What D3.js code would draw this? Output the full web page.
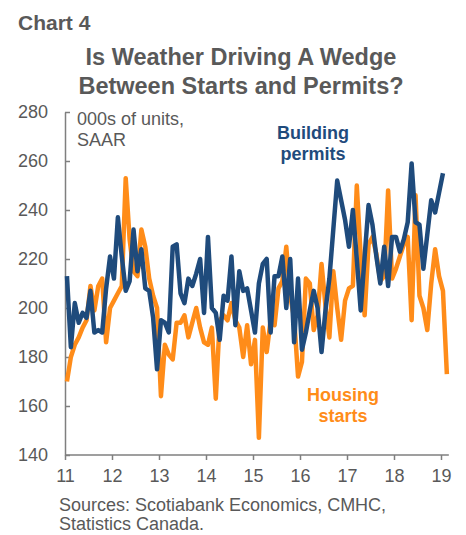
<!DOCTYPE html>
<html>
<head>
<meta charset="utf-8">
<script src="https://cdn.jsdelivr.net/npm/d3@7"></script>
<style>
  html, body { margin: 0; padding: 0; background: #fff; }
  svg { display: block; }
  text { font-family: "Liberation Sans", Arial, Helvetica, sans-serif; }
</style>
</head>
<body>
<div id="chart"></div>
<script>
// ---- data (monthly, starting Jan 2011) ----
const startYear = 2011;
const permits = [213,184,202,194,198,196,207,190,191,190,208,221,212,237,221,207,211,232,215,224,208,207,196,175,
  195,194,190,225,226,206,202,212,209,214,220,198,229,200,198,187,205,203,221,193,215,207,208,199,
  190,210,218,220,190,213,213,221,200,220,186,212,183,190,199,207,200,182,199,212,232,252,244,236,
  225,240,220,199,221,242,234,221,210,225,209,229,229,223,228,235,259,235,234,216,230,244,239,247,255];
const starts = [170,180,185,188,192,195,209,199,209,212,186,200,203,206,209,253,228,215,213,232,225,212,205,200,
  164,185,181,179,194,194,197,188,194,200,192,186,185,192,163,195,197,195,202,195,192,180,193,177,
  187,147,192,182,195,193,208,211,225,205,196,172,178,212,210,191,197,218,201,188,215,200,187,203,
  208,209,250,221,197,226,229,222,211,213,248,212,216,221,226,229,195,246,205,200,191,210,224,213,207,173];
const yTicks = [140,160,180,200,220,240,260,280];
const xTicks = [11,12,13,14,15,16,17,18,19];

const W = 466, H = 535;
const svg = d3.select("#chart").append("svg").attr("width", W).attr("height", H);

const x = d3.scaleLinear().domain([11, 19]).range([65, 441]);
const y = d3.scaleLinear().domain([140, 280]).range([455, 112]);
const xOf = i => x((startYear - 2000) + (i + 0.5) / 12);

const grey = "#595959";
const axisCol = "#7f7f7f";
const blue = "#1f4b7c";
const orange = "#ff8c19";

// titles
svg.append("text").attr("x", 18).attr("y", 30)
  .style("font-family", "'Liberation Sans Narrow','Arial Narrow',sans-serif")
  .style("font-stretch", "condensed")
  .attr("font-size", 21).attr("font-weight", "bold").attr("fill", grey).text("Chart 4");
svg.append("text").attr("x", 241).attr("y", 65).attr("text-anchor", "middle")
  .attr("font-size", 23.5).attr("font-weight", "bold").attr("fill", grey).text("Is Weather Driving A Wedge");
svg.append("text").attr("x", 241).attr("y", 94).attr("text-anchor", "middle")
  .attr("font-size", 23.5).attr("font-weight", "bold").attr("fill", grey).text("Between Starts and Permits?");

// y axis
const yAxis = d3.axisLeft(y).tickValues(yTicks).tickSizeInner(-5).tickSizeOuter(0).tickPadding(17);
const gy = svg.append("g").attr("transform", "translate(65,0)").call(yAxis);
gy.select(".domain").attr("stroke", axisCol).attr("stroke-width", 1.5);
gy.selectAll(".tick line").attr("stroke", axisCol).attr("stroke-width", 1.5);
gy.selectAll(".tick text").attr("font-size", 18).attr("fill", grey)
  .style("font-family", "'Liberation Sans', Arial, sans-serif");

// x axis
const xAxis = d3.axisBottom(x).tickValues(xTicks).tickFormat(d3.format("d")).tickSize(5).tickSizeOuter(0).tickPadding(9);
const gx = svg.append("g").attr("transform", "translate(0,455)").call(xAxis);
gx.select(".domain").attr("d", `M65,0H${x(19 + 2 / 12)}`).attr("stroke", axisCol).attr("stroke-width", 1.5);
gx.selectAll(".tick line").attr("stroke", axisCol).attr("stroke-width", 1.5);
gx.selectAll(".tick text").attr("font-size", 18).attr("fill", grey)
  .style("font-family", "'Liberation Sans', Arial, sans-serif");

// lines
const line = d3.line().x((d, i) => xOf(i)).y(d => y(d)).curve(d3.curveLinear);
svg.append("path").datum(starts).attr("d", line).attr("fill", "none")
  .attr("stroke", orange).attr("stroke-width", 4.5).attr("stroke-linejoin", "round");
svg.append("path").datum(permits).attr("d", line).attr("fill", "none")
  .attr("stroke", blue).attr("stroke-width", 4.5).attr("stroke-linejoin", "round");

// annotations
const t1 = svg.append("text").attr("font-size", 18).attr("fill", grey);
t1.append("tspan").attr("x", 77).attr("y", 125).text("000s of units,");
t1.append("tspan").attr("x", 77).attr("y", 146).text("SAAR");

const t2 = svg.append("text").attr("font-size", 18).attr("font-weight", "bold").attr("fill", blue).attr("text-anchor", "middle");
t2.append("tspan").attr("x", 313).attr("y", 139).text("Building");
t2.append("tspan").attr("x", 313).attr("y", 160).text("permits");

const t3 = svg.append("text").attr("font-size", 18).attr("font-weight", "bold").attr("fill", orange).attr("text-anchor", "middle");
t3.append("tspan").attr("x", 343).attr("y", 401).text("Housing");
t3.append("tspan").attr("x", 343).attr("y", 422).text("starts");

const t4 = svg.append("text").attr("font-size", 18).attr("fill", grey);
t4.append("tspan").attr("x", 59).attr("y", 511).text("Sources: Scotiabank Economics, CMHC,");
t4.append("tspan").attr("x", 59).attr("y", 530).text("Statistics Canada.");
</script>
</body>
</html>
